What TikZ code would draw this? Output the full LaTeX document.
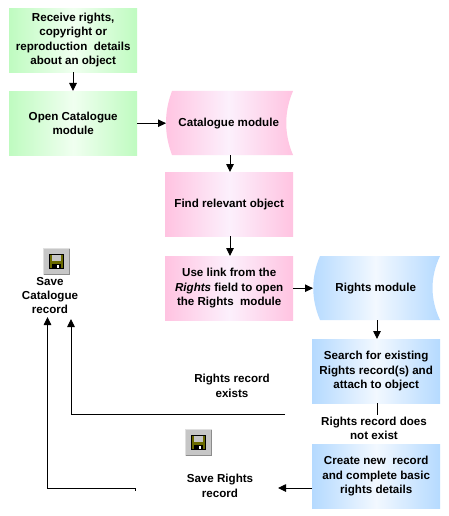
\documentclass[tikz,border=0pt]{standalone}
\usepackage{fontspec}
\setmainfont{Liberation Sans}
\usetikzlibrary{arrows.meta}
\definecolor{gE}{HTML}{BFFBC0}\definecolor{gM}{HTML}{F0FFF0}
\definecolor{pE}{HTML}{FFC3E1}\definecolor{pM}{HTML}{FCF0FC}
\definecolor{bE}{HTML}{B5DAFF}\definecolor{bM}{HTML}{F2F8FF}
\definecolor{diskO}{HTML}{6B6B00}
\tikzset{
  txt/.style={font=\fontsize{11.6}{14.4}\selectfont\bfseries,align=center,text=black,inner sep=0pt},
  boxbase/.style={txt,minimum width=128pt,minimum height=64pt,anchor=north west},
  greenbox/.style={boxbase,left color=gE,right color=gE,middle color=gM},
  pinkbox/.style={boxbase,left color=pE,right color=pE,middle color=pM},
  bluebox/.style={boxbase,left color=bE,right color=bE,middle color=bM},
  doclabel/.style={boxbase,minimum width=127pt},
  conn/.style={line width=0.9pt,draw=black},
  arr/.style={conn,-{Triangle[length=8pt,width=7.5pt]},shorten >=0pt},
  iconbox/.style={minimum width=27pt,minimum height=27pt,anchor=north west,inner sep=0pt}
}
\newcommand{\diskicon}[3]{%
  \node[iconbox] (#1) at (#2,#3) {};
  \begin{scope}[shift={(#2,#3)}]
    \fill[gray!45!white] (0,0) rectangle (27,27);
    \draw[white!88!black,line width=1pt] (0.5,26.5) -- (0.5,0.5) -- (26.5,0.5);
    \draw[black!45,line width=1pt] (26.5,0.5) -- (26.5,26.5) -- (0.5,26.5);
    \fill[black] (6,6) rectangle (21,21);
    \fill[diskO] (7,7) rectangle (20,20);
    \fill[gray!45!white] (9,7) rectangle (18,13);
    \fill[black] (9,16) rectangle (18,21);
    \fill[white] (14,17) rectangle (16,20);
  \end{scope}}
\begin{document}
\begin{tikzpicture}[x=1pt,y=-1pt]
\useasboundingbox (0,0) rectangle (448,516);
\fill[white] (0,0) rectangle (448,516);
% nodes
\node[greenbox] (receive) at (9,8) {Receive rights,\\copyright or\\reproduction~ details\\about an object\hspace{1pt}};
\node[greenbox] (opencat) at (9,91) {Open Catalogue\\module};
\shade[left color=pE,right color=pE,middle color=pM]
  (172,91) -- (293,91) .. controls (284,112) and (284,134) .. (293,155) -- (172,155) .. controls (164,134) and (164,112) .. (172,91) -- cycle;
\node[doclabel] (catmod) at (166,91) {Catalogue module\hspace{2pt}};
\node[pinkbox] (find) at (165,172) {Find relevant object};
\node[pinkbox] (uselink) at (165,256) {Use link from the\\\textit{Rights} field to open\\the Rights~ module};
\shade[left color=bE,right color=bE,middle color=bM]
  (320,256) -- (440,256) .. controls (430,277) and (430,299) .. (440,320) -- (320,320) .. controls (311,299) and (311,277) .. (320,256) -- cycle;
\node[doclabel] (rightsmod) at (313,256) {Rights module\hspace{2pt}};
\node[bluebox] (search) at (312,339) {Search for existing\\Rights record(s) and\\attach to object};
\node[bluebox] (create) at (312,444) {Create new~ record\\and complete basic\\rights details};
\node[txt] (savecat) at (50,295.5) {Save\\Catalogue\\record};
\node[txt] (exists) at (232,386) {Rights record\\exists};
\node[txt] (notexist) at (374,428.5) {Rights record does\\not exist};
\node[txt] (saverights) at (220,486) {Save Rights\\record};
\diskicon{diskA}{43}{248}
\diskicon{diskB}{185}{429}
% free ends of connectors
\coordinate (existsEnd) at (285,414);
\coordinate (existsUp) at (71,319);
\coordinate (nbTick) at (135,490.5);
\coordinate (nbUp) at (47.5,317);
\coordinate (createOut) at (312,488);
\coordinate (saveIn) at (278,488);
\coordinate (searchOut) at (377,403);
\coordinate (notTop) at (377,415);
% connectors
\draw[arr] (receive.south -| 73,0) -- (opencat.north -| 73,0);
\draw[arr] (opencat.east) -- (catmod.west);
\draw[arr] (catmod.south -| 230,0) -- (find.north -| 230,0);
\draw[arr] (find.south -| 230,0) -- (uselink.north -| 230,0);
\draw[arr] (uselink.east) -- (rightsmod.west);
\draw[arr] (rightsmod.south -| 377,0) -- (search.north -| 377,0);
\draw[conn] (searchOut) -- (notTop);
\draw[arr] (existsEnd) -- (existsUp |- existsEnd) -- (existsUp);
\draw[arr] (nbTick) -- (nbTick |- 0,488) -- (nbUp |- 0,488) -- (nbUp);
\draw[arr] (createOut) -- (saveIn);
\end{tikzpicture}
\end{document}
